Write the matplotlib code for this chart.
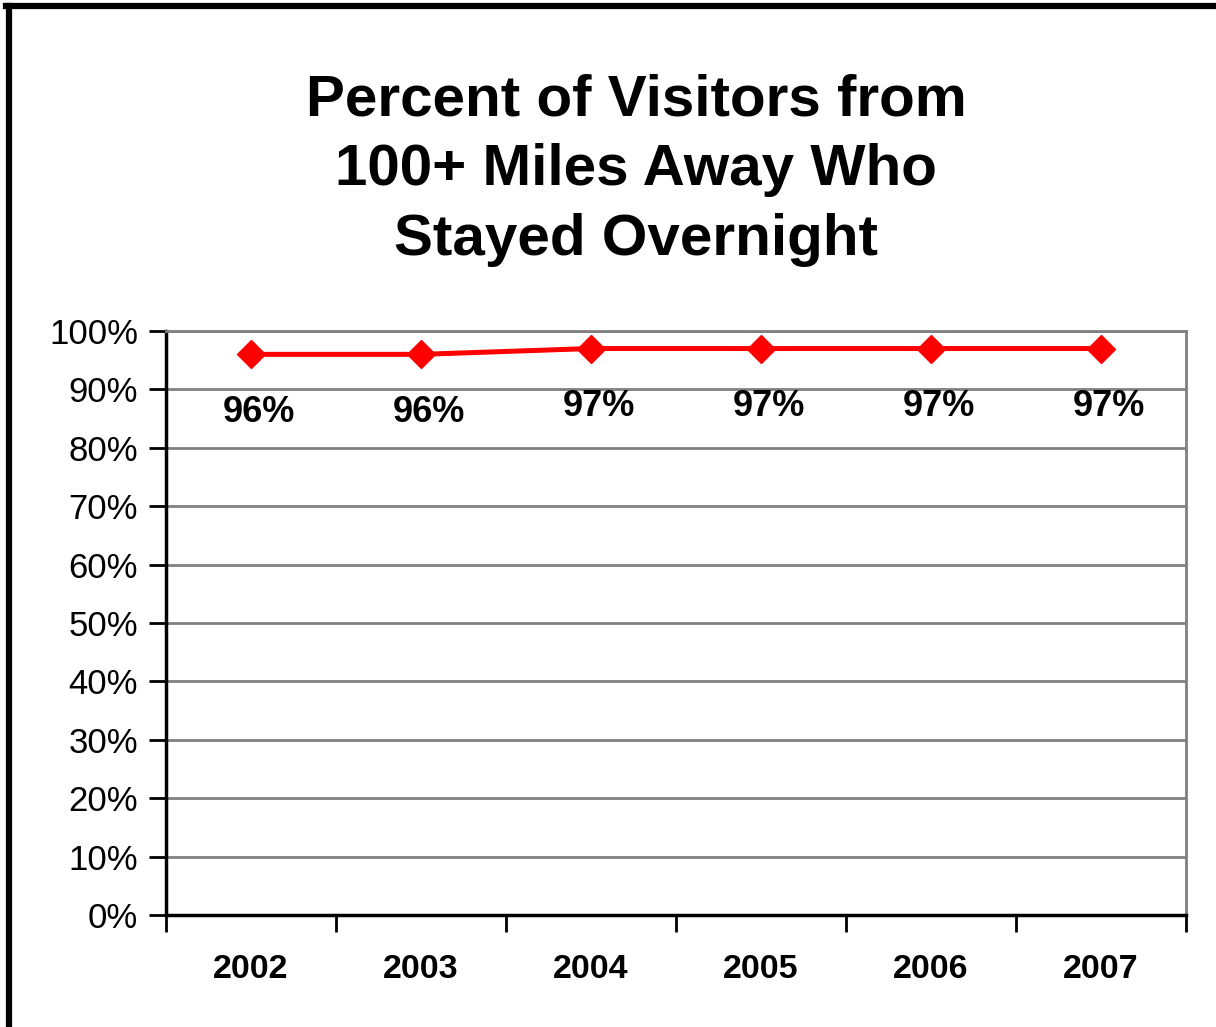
import matplotlib
matplotlib.use("Agg")
import matplotlib.pyplot as plt
from matplotlib.lines import Line2D

years = ["2002", "2003", "2004", "2005", "2006", "2007"]
values = [96, 96, 97, 97, 97, 97]
labels = ["96%", "96%", "97%", "97%", "97%", "97%"]
yticks = [0, 10, 20, 30, 40, 50, 60, 70, 80, 90, 100]
title = "Percent of Visitors from\n100+ Miles Away Who\nStayed Overnight"

plt.rcParams['font.family'] = ['Liberation Sans', 'DejaVu Sans']

fig = plt.figure(figsize=(12.16, 10.27), dpi=100)
ax = fig.add_axes([166/1216, 1 - 915/1027, (1186-166)/1216, (915-331)/1027])

x = list(range(len(years)))
ax.plot(x, values, color='#ff0000', lw=3.6, marker='D', markersize=14, zorder=3, clip_on=False)
for xi, v, lab in zip(x, values, labels):
    ax.annotate(lab, (xi, v), xytext=(6, -42), textcoords='offset points',
                ha='center', va='center', fontsize=26, fontweight='bold')

ax.set_xlim(-0.5, len(years) - 0.5)
ax.set_ylim(0, 100)
ax.set_yticks(yticks)
ax.set_yticklabels([f"{t}%" for t in yticks], fontsize=25)
ax.yaxis.grid(True, color='#808080', lw=2)
ax.set_axisbelow(True)

ax.set_xticks([i - 0.5 for i in range(len(years) + 1)])
ax.set_xticklabels([])
ax.set_xticks(x, minor=True)
ax.set_xticklabels(years, minor=True, fontsize=24.5, fontweight='bold')
ax.tick_params(axis='x', which='major', direction='out', length=12, width=2)
ax.tick_params(axis='x', which='minor', length=0, pad=28)
ax.tick_params(axis='y', direction='out', length=12, width=2, pad=8)

for s in ['left', 'bottom']:
    ax.spines[s].set_linewidth(2.5)
    ax.spines[s].set_color('black')
for s in ['top', 'right']:
    ax.spines[s].set_linewidth(2)
    ax.spines[s].set_color('#808080')

fig.text(636/1216, 1 - 170/1027, title, ha='center', va='center', fontsize=42,
         fontweight='bold', linespacing=1.37)

fig.add_artist(Line2D([9/1216, 9/1216], [0, 1 - 6/1027], color='black', lw=4.5, transform=fig.transFigure))
fig.add_artist(Line2D([6/1216, 1], [1 - 6/1027, 1 - 6/1027], color='black', lw=4.5, transform=fig.transFigure))

fig.savefig("out.png", dpi=100)
